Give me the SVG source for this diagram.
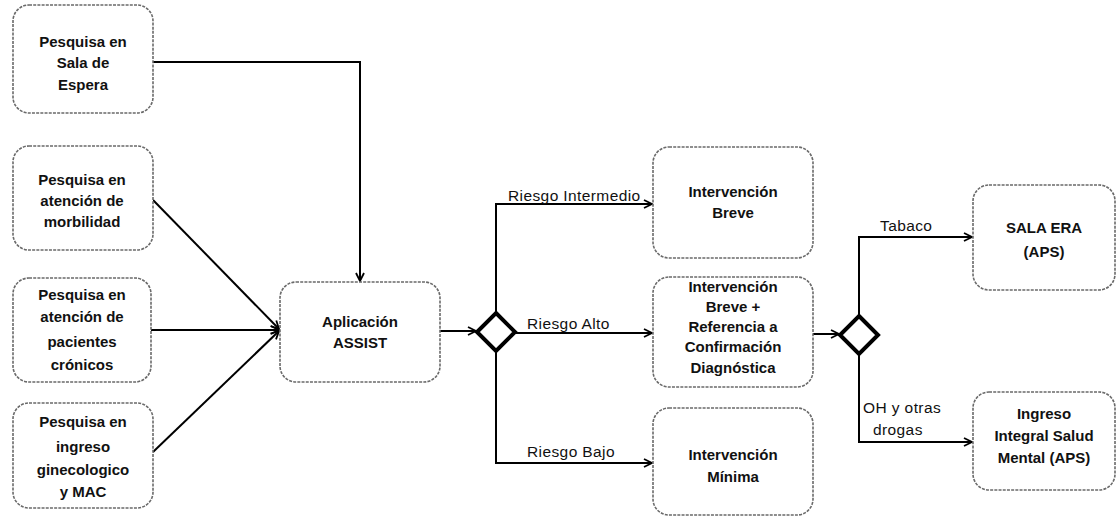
<svg xmlns="http://www.w3.org/2000/svg" width="1117" height="519" viewBox="0 0 1117 519">
<defs>
<marker id="arr" viewBox="0 0 10 10" refX="9" refY="5" markerWidth="10" markerHeight="10" markerUnits="userSpaceOnUse" orient="auto">
<path d="M1,1 L9,5 L1,9" fill="none" stroke="#000" stroke-width="1.8"/>
</marker>
<style>
.box{fill:#fff;stroke:#6a6a6a;stroke-width:1.6;stroke-dasharray:3 1.2}
.t{font-family:"Liberation Sans",Arial,sans-serif;font-size:15px;font-weight:bold;fill:#111;text-anchor:middle}
.l{font-family:"Liberation Sans",Arial,sans-serif;font-size:15.5px;fill:#111;letter-spacing:0.4px}
.c{fill:none;stroke:#000;stroke-width:2}
.d{fill:#fff;stroke:#000;stroke-width:4}
</style>
</defs>
<rect width="1117" height="519" fill="#fff"/>
<g id="connectors">
<path class="c" d="M153,62 H360 V281" marker-end="url(#arr)"/>
<path class="c" d="M153,200 L279,329" marker-end="url(#arr)"/>
<path class="c" d="M151,330 H279" marker-end="url(#arr)"/>
<path class="c" d="M153,452 L279,331" marker-end="url(#arr)"/>
<path class="c" d="M440,331 H476" marker-end="url(#arr)"/>
<path class="c" d="M496,312 V204 H652" marker-end="url(#arr)"/>
<path class="c" d="M515,333 H652" marker-end="url(#arr)"/>
<path class="c" d="M496,352 V463 H652" marker-end="url(#arr)"/>
<path class="c" d="M813,334 H839" marker-end="url(#arr)"/>
<path class="c" d="M859,316 V237 H972" marker-end="url(#arr)"/>
<path class="c" d="M859,353 V442 H972" marker-end="url(#arr)"/>
<text class="l" x="508" y="201">Riesgo Intermedio</text>
<text class="l" x="527" y="329">Riesgo Alto</text>
<text class="l" x="527" y="457">Riesgo Bajo</text>
<text class="l" x="880" y="231">Tabaco</text>
<text class="l" x="863" y="413">OH y otras</text>
<text class="l" x="873" y="435">drogas</text>
</g>
<g id="n1"><rect class="box" x="13" y="5" width="140" height="108" rx="16"/>
<text class="t" x="83" y="47">Pesquisa en</text><text class="t" x="83" y="68">Sala de</text><text class="t" x="83" y="90">Espera</text></g>
<g id="n2"><rect class="box" x="13" y="146" width="140" height="104" rx="16"/>
<text class="t" x="82" y="185">Pesquisa en</text><text class="t" x="82" y="206">atención de</text><text class="t" x="82" y="227">morbilidad</text></g>
<g id="n3"><rect class="box" x="13" y="278" width="138" height="104" rx="16"/>
<text class="t" x="82" y="300">Pesquisa en</text><text class="t" x="82" y="322">atención de</text><text class="t" x="82" y="347">pacientes</text><text class="t" x="82" y="370">crónicos</text></g>
<g id="n4"><rect class="box" x="13" y="403" width="140" height="105" rx="16"/>
<text class="t" x="83" y="427">Pesquisa en</text><text class="t" x="83" y="452">ingreso</text><text class="t" x="83" y="475">ginecologico</text><text class="t" x="83" y="497">y MAC</text></g>
<g id="assist"><rect class="box" x="280" y="282" width="160" height="100" rx="16"/>
<text class="t" x="360" y="327">Aplicación</text><text class="t" x="360" y="348">ASSIST</text></g>
<g id="gw1"><polygon class="d" points="496,313 515,332 496,351 477,332"/></g>
<g id="breve"><rect class="box" x="653" y="147" width="160" height="111" rx="16"/>
<text class="t" x="733" y="197">Intervención</text><text class="t" x="733" y="218">Breve</text></g>
<g id="referencia"><rect class="box" x="653" y="277" width="160" height="110" rx="16"/>
<text class="t" x="733" y="292">Intervención</text><text class="t" x="733" y="312">Breve +</text><text class="t" x="733" y="332">Referencia a</text><text class="t" x="733" y="352">Confirmación</text><text class="t" x="733" y="373">Diagnóstica</text></g>
<g id="minima"><rect class="box" x="653" y="408" width="160" height="107" rx="16"/>
<text class="t" x="733" y="460">Intervención</text><text class="t" x="733" y="482">Mínima</text></g>
<g id="gw2"><polygon class="d" points="859,316 878,335 859,354 840,335"/></g>
<g id="salaera"><rect class="box" x="973" y="185" width="142" height="105" rx="16"/>
<text class="t" x="1044" y="233">SALA ERA</text><text class="t" x="1044" y="257">(APS)</text></g>
<g id="ingreso"><rect class="box" x="973" y="392" width="142" height="98" rx="16"/>
<text class="t" x="1044" y="419">Ingreso</text><text class="t" x="1044" y="441">Integral Salud</text><text class="t" x="1044" y="463">Mental (APS)</text></g>
</svg>
